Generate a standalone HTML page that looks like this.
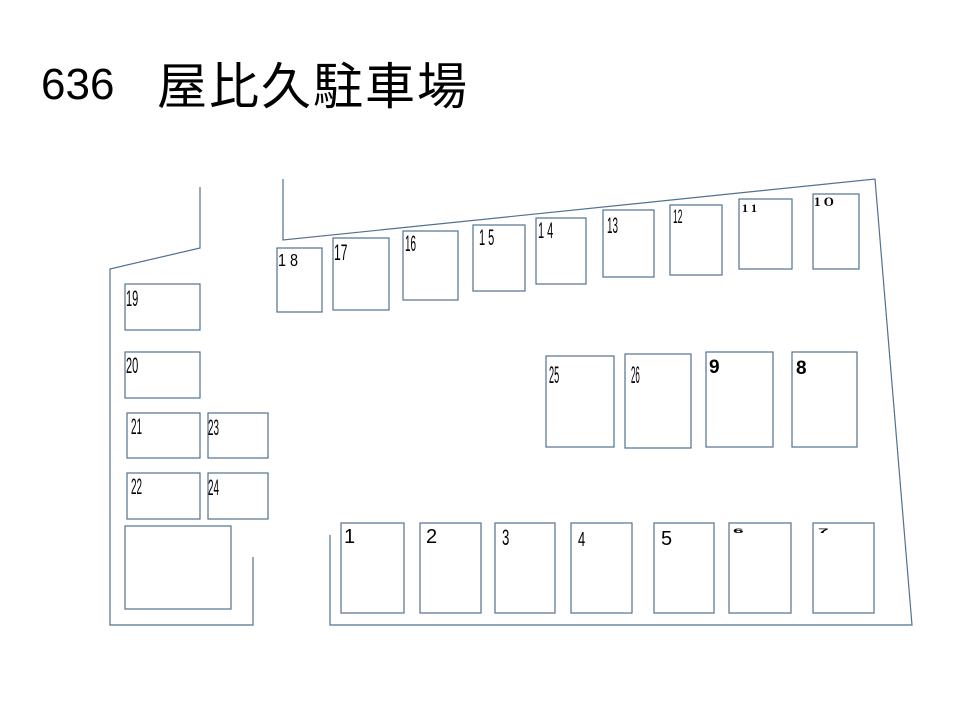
<!DOCTYPE html>
<html><head><meta charset="utf-8"><style>
html,body{margin:0;padding:0;background:#fff;}
body{width:960px;height:720px;position:relative;overflow:hidden;}
.t{position:absolute;font-family:"Liberation Sans","Noto Sans CJK JP",sans-serif;color:#000;white-space:nowrap;}
</style></head><body>
<div class="t" style="left:41px;top:63px;font-size:44px;line-height:44px;">636</div>
<div class="t" style="left:157px;top:57px;font-size:50px;line-height:52px;letter-spacing:2px;font-family:'Noto Sans CJK JP',sans-serif;">屋比久駐車場</div>
<svg width="960" height="720" style="position:absolute;left:0;top:0" xmlns="http://www.w3.org/2000/svg">
<g fill="none" stroke="#51718f" stroke-width="1.2">
<polyline points="200,187 200,248 110,269 110,625 253,625 253,557"/>
<polyline points="283,179 283,240 875,179 912,625 330,625 330,535"/>
<rect x="125" y="284" width="75" height="46"/>
<rect x="125" y="352" width="75" height="46"/>
<rect x="127" y="413" width="73" height="45"/>
<rect x="208" y="413" width="60" height="45"/>
<rect x="127" y="473" width="73" height="46"/>
<rect x="208" y="473" width="60" height="46"/>
<rect x="125" y="526" width="106" height="83"/>
<rect x="277" y="248" width="45" height="64"/>
<rect x="333" y="238" width="56" height="72"/>
<rect x="403" y="231" width="55" height="69"/>
<rect x="473" y="225" width="52" height="66"/>
<rect x="536" y="218" width="50" height="66"/>
<rect x="603" y="210" width="51" height="67"/>
<rect x="670" y="205" width="52" height="70"/>
<rect x="739" y="199" width="53" height="70"/>
<rect x="813" y="194" width="46" height="75"/>
<rect x="546" y="356" width="68" height="91"/>
<rect x="625" y="354" width="66" height="94"/>
<rect x="706" y="352" width="67" height="95"/>
<rect x="792" y="352" width="65" height="95"/>
<rect x="341" y="523" width="63" height="90"/>
<rect x="420" y="523" width="61" height="90"/>
<rect x="495" y="523" width="60" height="90"/>
<rect x="571" y="523" width="61" height="90"/>
<rect x="654" y="523" width="60" height="90"/>
<rect x="729" y="523" width="62" height="90"/>
<rect x="813" y="523" width="61" height="90"/>
</g>
<g font-family="Liberation Sans, sans-serif" font-size="22" fill="#000">
<text x="126" y="306" transform="translate(126,0) scale(0.5,1) translate(-126,0)">19</text>
<text x="126" y="373" transform="translate(126,0) scale(0.5,1) translate(-126,0)">20</text>
<text x="131" y="434" transform="translate(131,0) scale(0.45,1) translate(-131,0)">21</text>
<text x="208" y="435" transform="translate(208,0) scale(0.45,1) translate(-208,0)">23</text>
<text x="131" y="494" transform="translate(131,0) scale(0.45,1) translate(-131,0)">22</text>
<text x="208" y="495" transform="translate(208,0) scale(0.45,1) translate(-208,0)">24</text>
<text x="278" y="266" font-size="18" transform="translate(278,0) scale(0.8,1) translate(-278,0)">1 8</text>
<text x="334" y="260" transform="translate(334,0) scale(0.55,1) translate(-334,0)">17</text>
<text x="405" y="251" transform="translate(405,0) scale(0.45,1) translate(-405,0)">16</text>
<text x="479" y="245" transform="translate(479,0) scale(0.5,1) translate(-479,0)">1 5</text>
<text x="538" y="238" transform="translate(538,0) scale(0.5,1) translate(-538,0)">1 4</text>
<text x="607" y="233" transform="translate(607,0) scale(0.45,1) translate(-607,0)">13</text>
<text x="673" y="223" font-size="19" transform="translate(673,0) scale(0.45,1) translate(-673,0)">12</text>
<text x="742" y="212" font-size="12" font-weight="bold" font-family="Liberation Serif, serif">1 1</text>
<text x="814" y="206" font-size="13" font-weight="bold" font-family="Liberation Serif, serif">1 O</text>
<text x="549" y="383" transform="translate(549,0) scale(0.38,1) translate(-549,0)" font-size="24">25</text>
<text x="631" y="383" transform="translate(631,0) scale(0.33,1) translate(-631,0)" font-size="24">26</text>
<text x="709" y="373" font-size="19" font-weight="bold">9</text>
<text x="796" y="374" font-size="19" font-weight="bold">8</text>
<text x="344" y="543" font-size="20">1</text>
<text x="426" y="543" font-size="20">2</text>
<text x="502" y="545" transform="translate(502,0) scale(0.6,1) translate(-502,0)" font-size="22">3</text>
<text x="578" y="546" transform="translate(578,0) scale(0.65,1) translate(-578,0)" font-size="20">4</text>
<text x="661" y="545" font-size="20">5</text>
<text x="733" y="533" font-size="12" font-weight="bold" transform="translate(733,533) scale(1.6,0.5) translate(-733,-533)">6</text>
<text x="818" y="533" font-size="12" font-weight="bold" transform="translate(818,533) scale(1.6,0.5) translate(-818,-533)">7</text>
</g>
</svg>
</body></html>
